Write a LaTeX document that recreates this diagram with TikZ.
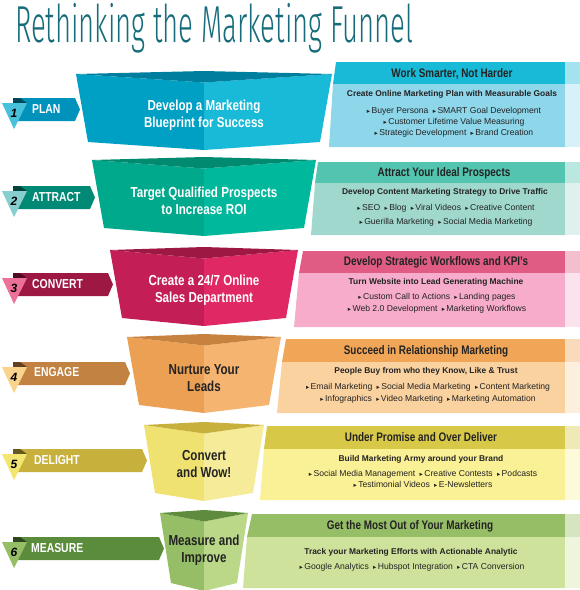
\documentclass[tikz,border=0pt]{standalone}
\usepackage{fontspec}
\setmainfont{Liberation Sans}
\newfontfamily\condfont[FakeStretch=0.8]{Liberation Sans}
\newfontfamily\titlefont[FakeStretch=0.53]{Fira Sans Light}
\newfontfamily\bulletfont{DejaVu Sans}
\usepackage{xcolor}
\usepackage{tikz}
\definecolor{titleteal}{RGB}{22,108,122}
\definecolor{inktext}{RGB}{35,35,35}
% L/R = funnel faces, T = rim, G = tag band, N = number triangle, H/B = panel head/body
\definecolor{planL}{RGB}{0,160,196}
\definecolor{planR}{RGB}{24,186,216}
\definecolor{planT}{RGB}{0,126,158}
\definecolor{planG}{RGB}{0,146,186}
\definecolor{planN}{RGB}{72,193,219}
\definecolor{planH}{RGB}{24,186,216}
\definecolor{planB}{RGB}{142,214,234}
\definecolor{attractL}{RGB}{0,168,140}
\definecolor{attractR}{RGB}{0,184,156}
\definecolor{attractT}{RGB}{0,138,112}
\definecolor{attractG}{RGB}{0,138,118}
\definecolor{attractN}{RGB}{135,207,207}
\definecolor{attractH}{RGB}{82,196,176}
\definecolor{attractB}{RGB}{160,216,205}
\definecolor{convertL}{RGB}{195,30,85}
\definecolor{convertR}{RGB}{224,40,100}
\definecolor{convertT}{RGB}{158,24,68}
\definecolor{convertG}{RGB}{158,24,68}
\definecolor{convertN}{RGB}{236,112,152}
\definecolor{convertH}{RGB}{224,92,132}
\definecolor{convertB}{RGB}{246,172,202}
\definecolor{engageL}{RGB}{236,160,84}
\definecolor{engageR}{RGB}{245,180,112}
\definecolor{engageT}{RGB}{200,130,64}
\definecolor{engageG}{RGB}{194,130,66}
\definecolor{engageN}{RGB}{250,212,140}
\definecolor{engageH}{RGB}{240,166,86}
\definecolor{engageB}{RGB}{250,210,160}
\definecolor{delightL}{RGB}{240,226,112}
\definecolor{delightR}{RGB}{245,235,152}
\definecolor{delightT}{RGB}{200,176,60}
\definecolor{delightG}{RGB}{200,176,60}
\definecolor{delightN}{RGB}{242,230,112}
\definecolor{delightH}{RGB}{216,200,72}
\definecolor{delightB}{RGB}{250,240,150}
\definecolor{measureL}{RGB}{150,190,102}
\definecolor{measureR}{RGB}{186,216,136}
\definecolor{measureT}{RGB}{94,140,60}
\definecolor{measureG}{RGB}{90,140,60}
\definecolor{measureN}{RGB}{150,190,102}
\definecolor{measureH}{RGB}{150,190,102}
\definecolor{measureB}{RGB}{206,226,156}
\newcommand{\bul}{{\bulletfont\fontsize{6.5}{6.5}\selectfont ▸}\,}

\begin{document}
\begin{tikzpicture}[x=1pt, y=-1pt,
    titletext/.style={font=\titlefont\fontsize{52}{52}\selectfont, text=titleteal, inner sep=0pt},
    funneltext/.style={font=\condfont\bfseries\fontsize{14.5}{17}\selectfont, align=center, inner sep=0pt},
    taglabel/.style={font=\condfont\bfseries\fontsize{13}{15}\selectfont, text=white, anchor=west, inner sep=0pt},
    tagnum/.style={font=\bfseries\itshape\fontsize{12}{14}\selectfont, text=black, inner sep=0pt},
    headtext/.style={font=\condfont\bfseries\fontsize{12.4}{14}\selectfont, text=inktext, inner sep=0pt},
    subtext/.style={font=\bfseries\fontsize{8.4}{10}\selectfont, text=inktext, inner sep=0pt},
    bullettext/.style={font=\fontsize{8.6}{11}\selectfont, text=inktext, align=center, inner sep=0pt}]

    \useasboundingbox (0,0) rectangle (580,590);

    % Title
    \node[titletext, anchor=base west] (title) at (15,42) {Rethinking the Marketing Funnel};

    % funnel, tag and panel of each stage
    \foreach \col/\yt/\yb/\wt/\wb/\tb/\tip/\ht/\hb/\bb/\la/\lb/\lc in {
        plan/74/142/128/116/98/80/62/84/147/336/333/329,
        attract/160/228/112/100/186/95/162/183/235/318/315/311,
        convert/250/318/94/82/273/113/251/273/327/303/299/294,
        engage/337/405/77/65/362/130/339/362/413/286/282/277,
        delight/425/493/60/49/449/147/426/449/500/267/264/260,
        measure/513/583/44/33/537/164/514/537/588/252/247/243} {
        % panel
        \fill[fill=\col H] (\la,\ht) -- (565,\ht) -- (565,\hb) -- (\lb,\hb) -- cycle;
        \fill[fill=\col B] (\lb,\hb) -- (565,\hb) -- (565,\bb) -- (\lc,\bb) -- cycle;
        \fill[fill=\col H!40] (565,\ht) rectangle (580,\hb);
        \fill[fill=\col B!35] (565,\hb) rectangle (580,\bb);
        % funnel faces and rim
        \fill[fill=\col L] (204-\wt,\yt) -- (204,\yt+8.5) -- (204,\yb+8) -- (204-\wb,\yb) -- cycle;
        \fill[fill=\col R] (204+\wt,\yt) -- (204,\yt+8.5) -- (204,\yb+8) -- (204+\wb,\yb) -- cycle;
        \fill[fill=\col T] (204-\wt,\yt) -- (204,\yt-3) -- (204+\wt,\yt) -- (204,\yt+8.5) -- cycle;
        % tag band, fold and number triangle
        \fill[fill=\col G] (13,\tb) -- (\tip-5,\tb) -- (\tip,\tb+11.5) -- (\tip-5,\tb+23) -- (13,\tb+23) -- cycle;
        \fill[fill=\col G!50!black] (13,\tb) -- (20,\tb) -- (27,\tb+5) -- (13,\tb+5) -- cycle;
        \fill[fill=\col N] (2,\tb+5) -- (27,\tb+5) -- (14,\tb+31) -- cycle;
    }

    % PLAN
    \node[funneltext, white] (plan-funnel) at (204,115.5) {Develop a Marketing\\Blueprint for Success};
    \node[taglabel] (plan-tag) at (32,109.5) {PLAN};
    \node[tagnum] (plan-num) at (14,113) {1};
    \node[headtext] (plan-head) at (452,73.5) {Work Smarter, Not Harder};
    \node[subtext] (plan-sub) at (452,94) {Create Online Marketing Plan with Measurable Goals};
    \node[bullettext] (plan-list) at (454,122)
        {\bul Buyer Persona\enspace\bul SMART Goal Development\\
         \bul Customer Lifetime Value Measuring\\
         \bul Strategic Development\enspace\bul Brand Creation};

    % ATTRACT
    \node[funneltext, white] (attract-funnel) at (204,200.5) {Target Qualified Prospects\\to Increase ROI};
    \node[taglabel] (attract-tag) at (32,197) {ATTRACT};
    \node[tagnum] (attract-num) at (14,201) {2};
    \node[headtext] (attract-head) at (444,173) {Attract Your Ideal Prospects};
    \node[subtext] (attract-sub) at (445,192) {Develop Content Marketing Strategy to Drive Traffic};
    \node[bullettext] (attract-list) at (446,215)
        {\bul SEO\enspace\bul Blog\enspace\bul Viral Videos\enspace\bul Creative Content\\[3pt]
         \bul Guerilla Marketing\enspace\bul Social Media Marketing};

    % CONVERT
    \node[funneltext, white] (convert-funnel) at (204,290) {Create a 24/7 Online\\Sales Department};
    \node[taglabel] (convert-tag) at (32,284) {CONVERT};
    \node[tagnum] (convert-num) at (14,288) {3};
    \node[headtext] (convert-head) at (436,262) {Develop Strategic Workflows and KPI’s};
    \node[subtext] (convert-sub) at (436,282) {Turn Website into Lead Generating Machine};
    \node[bullettext] (convert-list) at (437,303)
        {\bul Custom Call to Actions\enspace\bul Landing pages\\[1pt]
         \bul Web 2.0 Development\enspace\bul Marketing Workflows};

    % ENGAGE
    \node[funneltext, inktext] (engage-funnel) at (204,378.5) {Nurture Your\\Leads};
    \node[taglabel] (engage-tag) at (34,372.5) {ENGAGE};
    \node[tagnum] (engage-num) at (14,377) {4};
    \node[headtext] (engage-head) at (426,351) {Succeed in Relationship Marketing};
    \node[subtext] (engage-sub) at (426,371) {People Buy from who they Know, Like \& Trust};
    \node[bullettext] (engage-list) at (428,393)
        {\bul Email Marketing\enspace\bul Social Media Marketing\enspace\bul Content Marketing\\[1pt]
         \bul Infographics\enspace\bul Video Marketing\enspace\bul Marketing Automation};

    % DELIGHT
    \node[funneltext, inktext] (delight-funnel) at (204,464) {Convert\\and Wow!};
    \node[taglabel] (delight-tag) at (34,460.5) {DELIGHT};
    \node[tagnum] (delight-num) at (14,464) {5};
    \node[headtext] (delight-head) at (421,437.5) {Under Promise and Over Deliver};
    \node[subtext] (delight-sub) at (421,459) {Build Marketing Army around your Brand};
    \node[bullettext] (delight-list) at (423,478.5)
        {\bul Social Media Management\enspace\bul Creative Contests\enspace\bul Podcasts\\
         \bul Testimonial Videos\enspace\bul E-Newsletters};

    % MEASURE
    \node[funneltext, inktext] (measure-funnel) at (204,550) {Measure and\\Improve};
    \node[taglabel] (measure-tag) at (31,548) {MEASURE};
    \node[tagnum] (measure-num) at (14,552) {6};
    \node[headtext] (measure-head) at (410,526) {Get the Most Out of Your Marketing};
    \node[subtext] (measure-sub) at (411,552) {Track your Marketing Efforts with Actionable Analytic};
    \node[bullettext] (measure-list) at (412,567)
        {\bul Google Analytics\enspace\bul Hubspot Integration\enspace\bul CTA Conversion};
\end{tikzpicture}
\end{document}
